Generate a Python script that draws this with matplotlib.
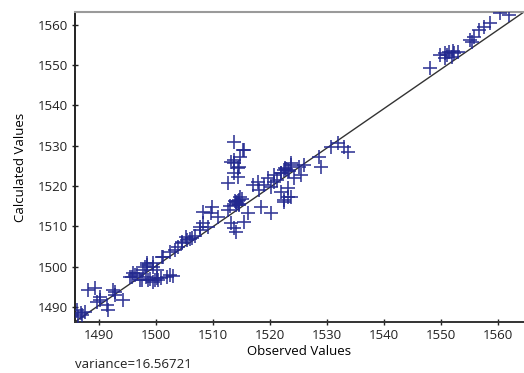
import matplotlib
matplotlib.use("Agg")
import matplotlib.pyplot as plt

plt.rcParams['font.family'] = ['Open Sans', 'DejaVu Sans']

# observed / calculated pairs
observed = [
    1486.1, 1486.3, 1486.8, 1487.5, 1488.1, 1489.3, 1489.7, 1490.2, 1490.2, 1491.4,
    1491.6, 1492.5, 1492.8, 1492.8, 1494.3, 1495.5, 1495.8, 1496.0, 1496.7, 1497.2,
    1497.6, 1497.8, 1498.1, 1498.5, 1498.5, 1498.6, 1499.4, 1499.4, 1499.5, 1499.9,
    1500.2, 1500.4, 1500.8, 1501.1, 1501.3, 1502.0, 1502.5, 1502.5, 1502.9, 1503.4,
    1503.8, 1504.6, 1504.6, 1505.2, 1505.5, 1506.4, 1506.9, 1507.8, 1507.8, 1508.3,
    1508.3, 1509.2, 1509.6, 1509.9, 1510.8, 1512.6, 1512.6, 1513.1, 1513.1, 1513.6,
    1513.6, 1513.6, 1513.6, 1513.6, 1514.0, 1514.0, 1514.3, 1514.3, 1514.5, 1514.5,
    1514.5, 1514.8, 1514.8, 1515.2, 1515.4, 1515.4, 1516.1, 1517.0, 1517.8, 1518.0,
    1518.4, 1519.6, 1520.1, 1520.1, 1520.7, 1520.7, 1521.9, 1521.9, 1521.9, 1522.4,
    1522.4, 1522.4, 1523.1, 1523.1, 1523.1, 1523.7, 1523.7, 1523.7, 1524.2, 1525.1,
    1525.4, 1526.0, 1528.6, 1528.9, 1530.7, 1531.9, 1533.0, 1533.7, 1548.0, 1549.7,
    1550.6, 1550.6, 1551.3, 1551.8, 1552.3, 1553.0, 1555.0, 1555.4, 1555.7, 1556.6,
    1557.5, 1558.5, 1560.3, 1561.9, 1514.2, 1513.9, 1514.6, 1515.0, 1512.9, 1519.0,
    1514.4, 1514.1, 1522.8, 1523.4, 1522.6, 1499.0, 1498.2, 1500.1, 1487.0, 1551.0,
    1552.0, 1496.4, 1505.9, 1521.2,
]
calculated = [
    1489.3, 1487.5, 1488.4, 1488.8, 1494.2, 1494.7, 1491.3, 1492.5, 1491.8, 1490.5,
    1489.3, 1494.2, 1493.0, 1493.7, 1491.8, 1497.5, 1497.5, 1498.5, 1498.5, 1496.7,
    1496.7, 1499.2, 1500.0, 1500.4, 1501.0, 1496.7, 1500.0, 1496.2, 1501.0, 1496.7,
    1499.2, 1496.7, 1497.2, 1502.4, 1502.4, 1497.5, 1503.7, 1498.0, 1497.7, 1504.2,
    1504.9, 1506.2, 1505.9, 1507.4, 1506.6, 1507.1, 1507.6, 1509.9, 1509.1, 1510.9,
    1513.6, 1509.9, 1513.3, 1514.8, 1512.4, 1514.1, 1520.8, 1510.9, 1526.0, 1531.0,
    1525.7, 1523.3, 1526.5, 1509.6, 1508.6, 1516.1, 1524.5, 1522.3, 1516.6, 1524.8,
    1515.3, 1517.3, 1527.3, 1529.0, 1511.1, 1529.0, 1513.3, 1520.3, 1521.0, 1519.0,
    1514.8, 1522.0, 1513.3, 1519.8, 1522.8, 1521.0, 1523.3, 1518.5, 1523.3, 1516.1,
    1524.0, 1516.6, 1517.3, 1524.0, 1519.5, 1525.3, 1525.8, 1517.3, 1522.0, 1524.8,
    1522.8, 1525.3, 1527.3, 1524.8, 1529.7, 1530.7, 1529.7, 1528.5, 1549.3, 1552.6,
    1553.0, 1551.8, 1553.3, 1552.0, 1553.0, 1553.3, 1556.3, 1555.8, 1557.0, 1558.8,
    1559.5, 1560.5, 1563.0, 1562.5, 1515.9, 1516.4, 1515.6, 1516.8, 1515.0, 1520.2,
    1516.2, 1515.4, 1524.3, 1523.8, 1524.6, 1497.0, 1497.4, 1497.2, 1487.9, 1552.4,
    1553.6, 1497.9, 1506.8, 1521.6,
]

# fitted reference line end points
line_x = [1485.8, 1564.5]
line_y = [1486.3, 1563.2]

xticks = [1490, 1500, 1510, 1520, 1530, 1540, 1550, 1560]
yticks = [1490, 1500, 1510, 1520, 1530, 1540, 1550, 1560]

fig = plt.figure(figsize=(5.24, 3.73), dpi=100)
ax = fig.add_axes([0.143, 0.137, 0.857, 0.831])

ax.plot(line_x, line_y, color='#333333', linewidth=1.0, zorder=2)
ax.plot(observed, calculated, linestyle='none', marker='+', markersize=9.5,
        markeredgewidth=1.2, color='#22288f', alpha=0.9, zorder=3)

ax.set_xlim(1485.8, 1564.5)
ax.set_ylim(1486.3, 1563.2)
ax.set_xticks(xticks)
ax.set_yticks(yticks)
ax.tick_params(direction='inout', length=4, width=1.0, labelsize=9.5, pad=3,
               colors='#222222')

ax.spines['left'].set_linewidth(1.4)
ax.spines['bottom'].set_linewidth(1.4)
ax.spines['left'].set_color('#222222')
ax.spines['bottom'].set_color('#333333')
ax.spines['top'].set_color('#9a9a9a')
ax.spines['top'].set_linewidth(1.5)
ax.spines['right'].set_visible(False)

ax.set_xlabel('Observed Values', fontsize=9.5, labelpad=2)
ax.set_ylabel('Calculated Values', fontsize=9.5, labelpad=8)
fig.text(0.143, 0.005, 'variance=16.56721', fontsize=9.5, ha='left', va='bottom',
         color='#222222')

fig.savefig('out.png', dpi=100)
